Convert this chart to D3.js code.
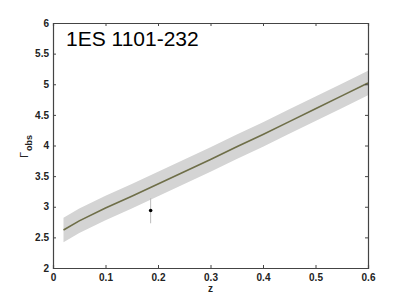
<!DOCTYPE html>
<html><head><meta charset="utf-8">
<script src="https://cdn.jsdelivr.net/npm/d3@7"></script>
<style>body{margin:0;background:#fff}svg{display:block}</style>
</head><body>
<script>
const zVals   = [0.02,0.05,0.1,0.15,0.2,0.25,0.3,0.35,0.4,0.45,0.5,0.55,0.6];
const gamma   = [2.62,2.77,2.98,3.17,3.37,3.57,3.77,3.98,4.18,4.39,4.60,4.81,5.02];
const upper   = [2.82,2.97,3.18,3.37,3.57,3.77,3.97,4.18,4.38,4.59,4.80,5.01,5.22];
const lower   = [2.42,2.57,2.78,2.97,3.17,3.37,3.57,3.78,3.98,4.19,4.40,4.61,4.82];
const obsZ = [0.186], obsG = [2.94], obsHi = [3.14], obsLo = [2.73];
const xTicks = [0,0.1,0.2,0.3,0.4,0.5,0.6];
const yTicks = [2,2.5,3,3.5,4,4.5,5,5.5,6];
const title = "1ES 1101-232";

const W=407,H=302;
const svg=d3.select("body").append("svg").attr("width",W).attr("height",H);
const x=d3.scaleLinear().domain([0,0.6]).range([53,368]);
const y=d3.scaleLinear().domain([2,6]).range([268,23]);

const data=zVals.map((z,i)=>({z,g:gamma[i],u:upper[i],l:lower[i]}));
svg.append("path").datum(data)
  .attr("d",d3.area().x(d=>x(d.z)).y0(d=>y(d.l)).y1(d=>y(d.u)))
  .attr("fill","#d4d4d4");
svg.append("path").datum(data)
  .attr("d",d3.line().x(d=>x(d.z)).y(d=>y(d.g)))
  .attr("fill","none").attr("stroke","#6e6e48").attr("stroke-width",1.6);

// error bar
obsZ.forEach((z,i)=>{
  svg.append("line").attr("x1",x(z)).attr("x2",x(z)).attr("y1",y(obsHi[i])).attr("y2",y(obsLo[i]))
    .attr("stroke","#bbbbbb").attr("stroke-width",1);
  svg.append("circle").attr("cx",x(z)).attr("cy",y(obsG[i])).attr("r",1.8).attr("fill","#000");
});

const axCol="#444";
const fontT="'Liberation Sans',Arial,sans-serif";
const xb=svg.append("g").attr("transform","translate(0,268)").call(d3.axisBottom(x).tickValues(xTicks).tickSize(-3).tickPadding(6).tickFormat(d=>d===0?"0":d3.format(".1f")(d)));
const xt=svg.append("g").attr("transform","translate(0,23)").call(d3.axisTop(x).tickValues(xTicks).tickSize(-3).tickFormat(""));
const yl=svg.append("g").attr("transform","translate(53,0)").call(d3.axisLeft(y).tickValues(yTicks).tickSize(-3).tickPadding(4).tickFormat(d=>Number.isInteger(d)?d:d.toFixed(1)));
const yr=svg.append("g").attr("transform","translate(368,0)").call(d3.axisRight(y).tickValues(yTicks).tickSize(-3).tickFormat(""));
[xb,xt,yl,yr].forEach(g=>{
  g.selectAll("path").attr("stroke",axCol).attr("stroke-width",1.2);
  g.selectAll("line").attr("stroke",axCol);
  g.selectAll("text").attr("font-family",fontT).attr("font-weight","bold").attr("font-size","10px").attr("fill","#222");
});
xb.selectAll("text").attr("dy","0.71em");

svg.append("text").attr("x",x(0.3)).attr("y",292).attr("text-anchor","middle")
  .attr("font-family",fontT).attr("font-weight","bold").attr("font-size","10px").attr("fill","#222").text("z");

const yt=svg.append("text").attr("transform","translate(28,158) rotate(-90)")
  .attr("font-family",fontT).attr("font-size","11px").attr("fill","#222");
yt.append("tspan").text("Γ");
yt.append("tspan").attr("font-size","9px").attr("dy","4").attr("dx","1").attr("font-weight","bold").text("obs");

svg.append("text").attr("x",66).attr("y",46).attr("font-family",fontT).attr("font-size","21px").attr("fill","#000").text(title);
</script>
</body></html>
